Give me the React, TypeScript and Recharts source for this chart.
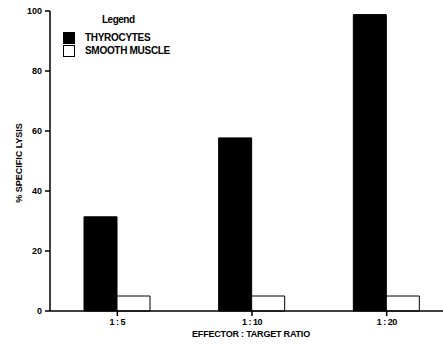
import { BarChart, Bar, XAxis, YAxis, Label } from 'recharts';

const ratios = ['1 : 5', '1 : 10', '1 : 20'];
const thyrocytes = [31.4, 57.7, 98.8];
const smoothMuscle = [5, 5, 5];
const yTicks = [0, 20, 40, 60, 80, 100];

const rows = ratios.map((r, i) => ({
  ratio: r,
  thyrocytes: thyrocytes[i],
  smoothMuscle: smoothMuscle[i],
}));

const font = '"Liberation Sans", Arial, sans-serif';
const tickStyle = { fontFamily: font, fontSize: 9, fontWeight: 700, fill: '#000' };
const xTickStyle = { ...tickStyle, letterSpacing: -0.5 };
const labelStyle = { fontFamily: font, fontSize: 9, fontWeight: 700, fill: '#000' };

function LegendBox() {
  const item = (fill: string, label: string) => (
    <div style={{ display: 'flex', alignItems: 'center', height: 13 }}>
      <div
        style={{
          width: 12,
          height: 12,
          background: fill,
          border: '1px solid #000',
          boxSizing: 'border-box',
          marginRight: 10,
        }}
      />
      <span style={{ letterSpacing: -0.3 }}>{label}</span>
    </div>
  );
  return (
    <div
      style={{
        position: 'absolute',
        left: 63,
        top: 12,
        fontFamily: font,
        fontSize: 10,
        fontWeight: 700,
        color: '#000',
        lineHeight: '13px',
      }}
    >
      <div style={{ marginLeft: 39, height: 19, lineHeight: '16px', letterSpacing: -0.5 }}>Legend</div>
      {item('#000', 'THYROCYTES')}
      {item('#fff', 'SMOOTH MUSCLE')}
    </div>
  );
}

export default function App() {
  return (
    <div
      style={{
        position: 'fixed',
        left: 0,
        top: 0,
        width: 443,
        height: 344,
        overflow: 'hidden',
        background: '#fff',
      }}
    >
      <BarChart
        width={460}
        height={344}
        data={rows}
        margin={{ top: 11, right: 6, bottom: 0, left: 0 }}
        barCategoryGap={34}
        barGap={0}
        style={{ overflow: 'visible' }}
      >
        <XAxis
          dataKey="ratio"
          height={33}
          tick={xTickStyle}
          tickSize={5}
          tickMargin={3}
          stroke="#000"
          strokeWidth={1.5}
        >
          <Label
            content={() => (
              <text
                x={251}
                y={334}
                textAnchor="middle"
                dy="0.35em"
                style={{ ...labelStyle, letterSpacing: -0.2 }}
              >
                EFFECTOR : TARGET RATIO
              </text>
            )}
          />
        </XAxis>
        <YAxis
          width={50}
          domain={[0, 100]}
          ticks={yTicks}
          tick={tickStyle}
          tickSize={5}
          tickMargin={3}
          stroke="#000"
          strokeWidth={1.5}
        >
          <Label
            content={() => (
              <text
                x={19}
                y={163}
                transform="rotate(-90 19 163)"
                textAnchor="middle"
                dominantBaseline="central"
                style={labelStyle}
              >
                % SPECIFIC LYSIS
              </text>
            )}
          />
        </YAxis>
        <Bar dataKey="thyrocytes" name="THYROCYTES" fill="#000" stroke="#000" isAnimationActive={false} />
        <Bar
          dataKey="smoothMuscle"
          name="SMOOTH MUSCLE"
          fill="#fff"
          stroke="#000"
          strokeWidth={1}
          isAnimationActive={false}
        />
      </BarChart>
      <LegendBox />
    </div>
  );
}
